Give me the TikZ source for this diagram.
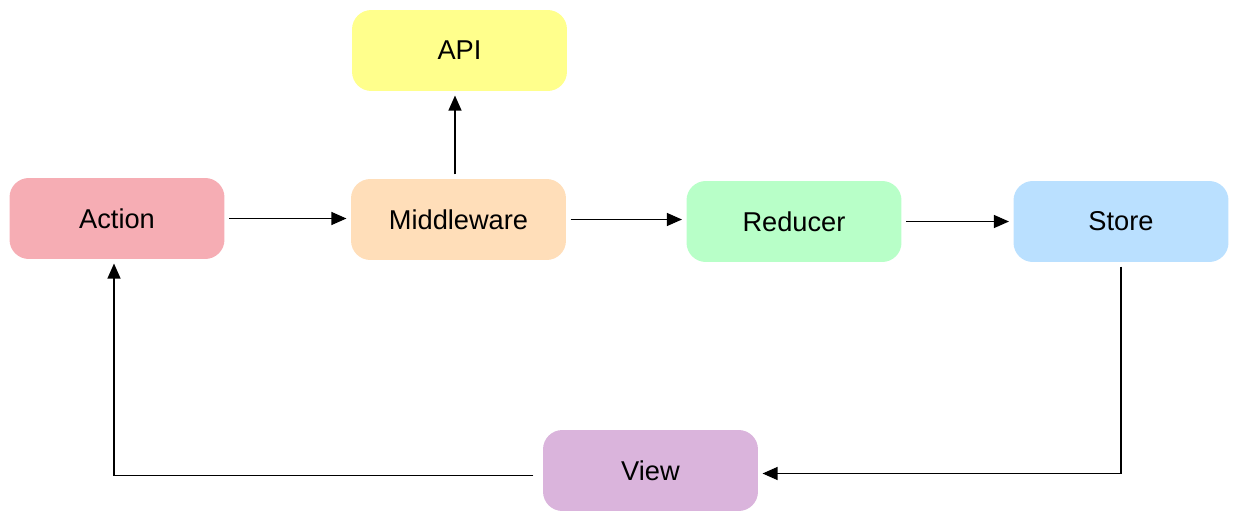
\documentclass[tikz,border=0pt]{standalone}
\usepackage{fontspec}
\setmainfont{Liberation Sans}
\usepackage{xcolor}
\usepackage{tikz}
\usetikzlibrary{arrows.meta,positioning,calc}
\definecolor{actpink}  {RGB}{246,173,180}
\definecolor{midpeach} {RGB}{255,222,185}
\definecolor{apiyellow}{RGB}{255,255,140}
\definecolor{redgreen} {RGB}{184,255,200}
\definecolor{storeblue}{RGB}{186,224,255}
\definecolor{viewpurp} {RGB}{218,180,220}
\tikzset{
  flowbox/.style={rounded corners=11pt, align=center,
                  minimum width=4.3cm, minimum height=1.62cm,
                  font=\fontsize{15.5}{18}\selectfont, inner sep=4pt,
                  outer sep=2.6pt},
  actbox/.style  ={flowbox, fill=actpink},
  midbox/.style  ={flowbox, fill=midpeach},
  apibox/.style  ={flowbox, fill=apiyellow},
  redbox/.style  ={flowbox, fill=redgreen},
  storebox/.style={flowbox, fill=storeblue},
  viewbox/.style ={flowbox, fill=viewpurp},
  arr/.style     ={-{Triangle[length=0.3cm,width=0.26cm]}, line width=0.65pt},
}
\begin{document}
\begin{tikzpicture}[x=0.02cm,y=-0.02cm]
  \useasboundingbox (0,0) rectangle (1238,521);
  \node[apibox]   (api)   at (459.5,50.5)  {API};
  \node[actbox]   (act)   at (117,218.5)   {Action};
  \node[midbox]   (mid)   at (458.5,219.5) {Middleware};
  \node[redbox]   (red)   at (794,221.5)   {Reducer};
  \node[storebox] (store) at (1121,221.5)  {Store};
  \node[viewbox]  (view)  at (650.5,470.5) {View};
  \coordinate (mt) at ([xshift=-0.07cm]mid.north);
  \draw[arr](act.east)--(act.east-|mid.west);
  \draw[arr](mt)--(mt|-api.south);
  \draw[arr](mid.east)--(mid.east-|red.west);
  \draw[arr](red.east)--(store.west);
  %% loop back through the view
  \draw[arr](store.south)|-([yshift=-0.06cm]view.east);
  \draw[arr]([yshift=-0.1cm,xshift=-0.1cm]view.west)-|([xshift=-0.06cm]act.south);
\end{tikzpicture}
\end{document}
